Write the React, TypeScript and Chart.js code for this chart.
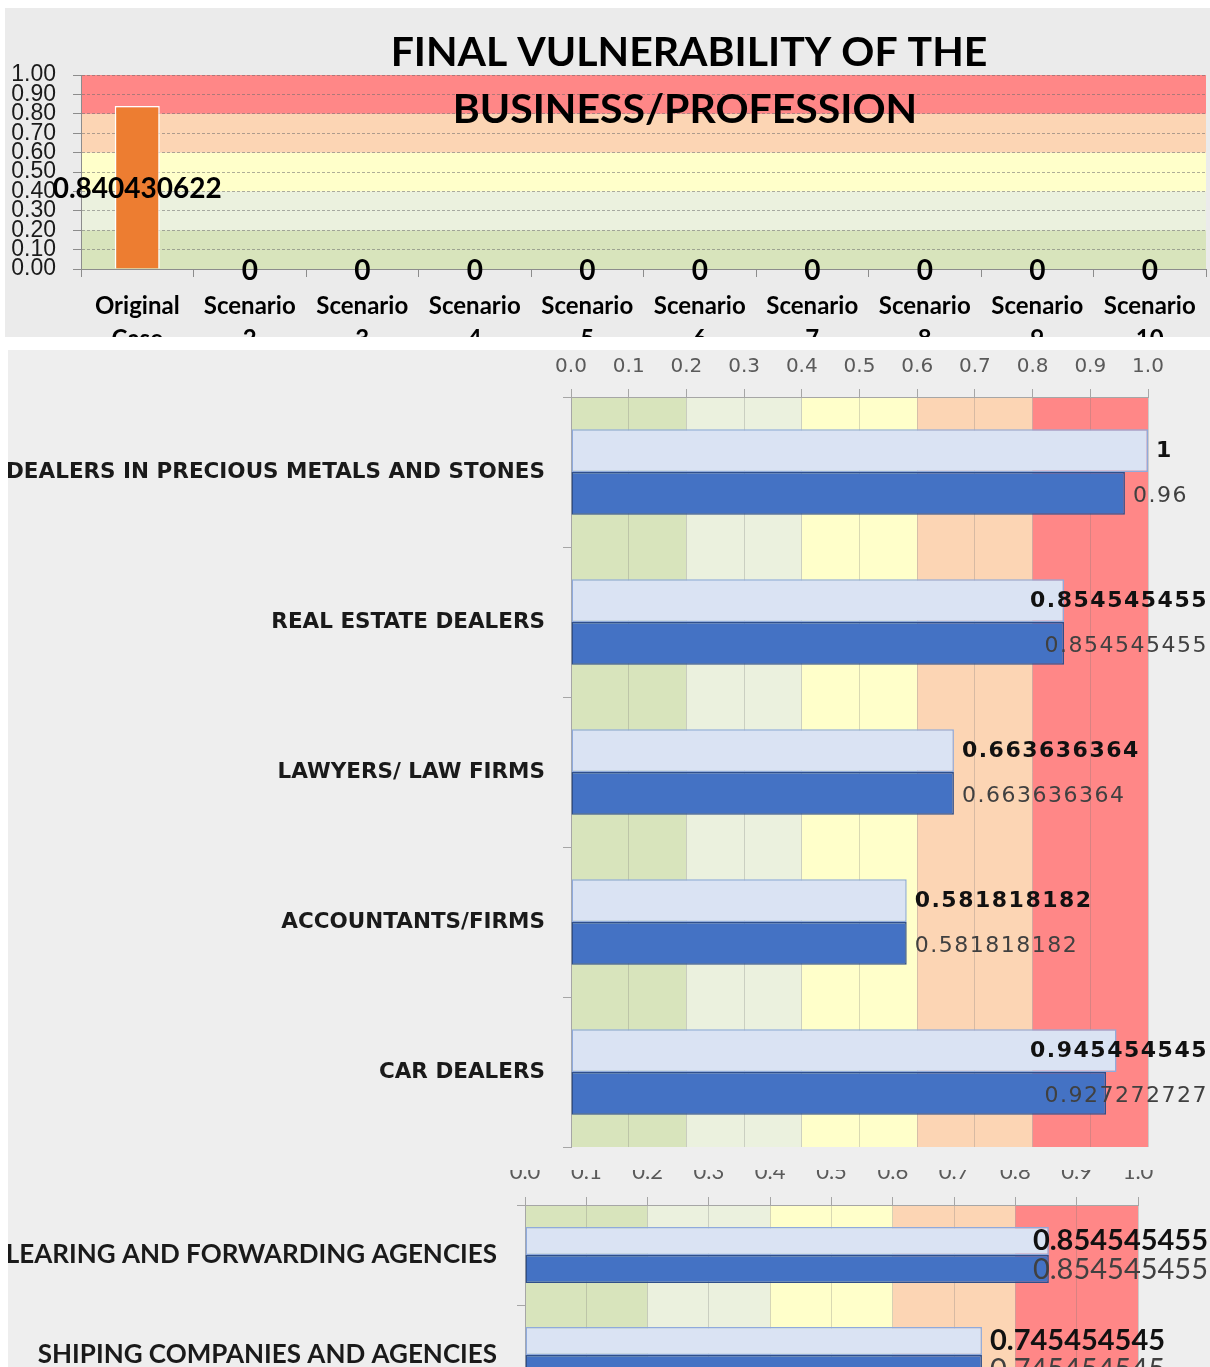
import React, { useEffect, useRef } from "react";
import { Chart, registerables } from "chart.js";

Chart.register(...registerables);

// ---------- data ----------
const TITLE_LINES = ["FINAL VULNERABILITY OF THE", "BUSINESS/PROFESSION"];
const TOP_CATEGORIES = [
  ["Original", "Case"],
  ["Scenario", "2"],
  ["Scenario", "3"],
  ["Scenario", "4"],
  ["Scenario", "5"],
  ["Scenario", "6"],
  ["Scenario", "7"],
  ["Scenario", "8"],
  ["Scenario", "9"],
  ["Scenario", "10"],
];
const TOP_VALUES = [0.840430622, 0, 0, 0, 0, 0, 0, 0, 0, 0];
const TOP_TICKS = [0, 0.1, 0.2, 0.3, 0.4, 0.5, 0.6, 0.7, 0.8, 0.9, 1.0];

const BAND_EDGES = [0, 0.2, 0.4, 0.6, 0.8, 1.0];
const BAND_COLORS = ["#d8e4bc", "#ebf1de", "#ffffca", "#fcd5b4", "#ff8787"];

const SECTORS_A = [
  "DEALERS IN PRECIOUS METALS AND STONES",
  "REAL ESTATE DEALERS",
  "LAWYERS/ LAW FIRMS",
  "ACCOUNTANTS/FIRMS",
  "CAR DEALERS",
];
const SECTORS_A_LIGHT = [1, 0.854545455, 0.663636364, 0.581818182, 0.945454545];
const SECTORS_A_DARK = [0.96, 0.854545455, 0.663636364, 0.581818182, 0.927272727];

const SECTORS_B = ["CLEARING AND FORWARDING AGENCIES", "SHIPING COMPANIES AND AGENCIES"];
const SECTORS_B_LIGHT = [0.854545455, 0.745454545];
const SECTORS_B_DARK = [0.854545455, 0.745454545];

const X_TICKS = [0, 0.1, 0.2, 0.3, 0.4, 0.5, 0.6, 0.7, 0.8, 0.9, 1.0];

// ---------- plugins ----------
function bandPlugin(axis: "x" | "y") {
  return {
    id: "bands",
    beforeDraw(chart: any) {
      const { ctx, chartArea: a } = chart;
      const s = chart.scales[axis];
      ctx.save();
      for (let i = 0; i < BAND_COLORS.length; i++) {
        const p0 = s.getPixelForValue(BAND_EDGES[i]);
        const p1 = s.getPixelForValue(BAND_EDGES[i + 1]);
        ctx.fillStyle = BAND_COLORS[i];
        if (axis === "y") {
          ctx.fillRect(a.left, Math.min(p0, p1), a.right - a.left, Math.abs(p1 - p0));
        } else {
          ctx.fillRect(Math.min(p0, p1), a.top, Math.abs(p1 - p0), a.bottom - a.top);
        }
      }
      ctx.restore();
    },
  };
}

const topLabelsPlugin = {
  id: "topLabels",
  afterDatasetsDraw(chart: any) {
    const { ctx } = chart;
    const meta = chart.getDatasetMeta(0);
    const ds = chart.data.datasets[0];
    ctx.save();
    ctx.font = "bold 28px Lato";
    ctx.fillStyle = "#000";
    ctx.textAlign = "center";
    ctx.textBaseline = "middle";
    meta.data.forEach((bar: any, i: number) => {
      const y = (bar.y + bar.base) / 2 + 2;
      ctx.fillText(String(ds.data[i]), bar.x, y);
    });
    ctx.restore();
  },
};

const titlePlugin = {
  id: "title2",
  afterDraw(chart: any) {
    const { ctx } = chart;
    ctx.save();
    ctx.font = "bold 41px Lato";
    ctx.fillStyle = "#000";
    ctx.textAlign = "center";
    ctx.textBaseline = "middle";
    ctx.fillText(TITLE_LINES[0], 684, 45);
    ctx.fillText(TITLE_LINES[1], 680, 102);
    ctx.restore();
  },
};

function hbarLabelsPlugin(fonts: string[], colors: string[], spacing: string, dy: number[]) {
  return {
    id: "hbarLabels",
    afterDatasetsDraw(chart: any) {
      const { ctx } = chart;
      ctx.save();
      ctx.textAlign = "left";
      ctx.textBaseline = "middle";
      chart.data.datasets.forEach((ds: any, di: number) => {
        const meta = chart.getDatasetMeta(di);
        ctx.font = fonts[di];
        ctx.fillStyle = colors[di];
        try {
          (ctx as any).letterSpacing = spacing;
        } catch (e) {}
        meta.data.forEach((bar: any, i: number) => {
          const text = String(ds.data[i]);
          const w = ctx.measureText(text).width;
          const x = Math.min(bar.x + 8, chart.width - w - 2);
          ctx.fillText(text, x, bar.y + dy[di]);
        });
      });
      ctx.restore();
    },
  };
}

// ---------- chart configs ----------
function topConfig(): any {
  return {
    type: "bar",
    data: {
      labels: TOP_CATEGORIES,
      datasets: [
        {
          data: TOP_VALUES,
          backgroundColor: "#ed7d31",
          borderColor: "#ffffff",
          borderWidth: 1.5,
          barPercentage: 0.4,
          categoryPercentage: 1,
        },
      ],
    },
    options: {
      responsive: false,
      animation: false,
      devicePixelRatio: 1,
      layout: { padding: { top: 67, right: 4, left: 0, bottom: 0 } },
      plugins: { legend: { display: false }, tooltip: { enabled: false }, title: { display: false } },
      scales: {
        x: {
          grid: { offset: true, drawOnChartArea: false, color: "#8c8c8c", tickLength: 8 },
          border: { color: "#8c8c8c" },
          ticks: {
            font: { family: "Lato", weight: "bold", size: 24, lineHeight: 1.4 },
            color: "#000",
            padding: 12,
            autoSkip: false,
            maxRotation: 0,
          },
          afterFit(s: any) {
            s.height = 84;
          },
        },
        y: {
          min: 0,
          max: 1,
          afterBuildTicks(s: any) {
            s.ticks = TOP_TICKS.map((v) => ({ value: v }));
          },
          ticks: {
            callback: (v: any) => Number(v).toFixed(2),
            font: { family: "Liberation Sans", size: 23, lineHeight: 1 },
            color: "#1a1a1a",
            padding: 17,
            autoSkip: false,
          },
          grid: { color: "rgba(110,110,110,0.55)", tickColor: "#8c8c8c", tickLength: 8, lineWidth: 1 },
          border: { color: "#8c8c8c", dash: [3, 2] },
          afterFit(s: any) {
            s.width = 76;
          },
        },
      },
    },
    plugins: [bandPlugin("y"), topLabelsPlugin, titlePlugin],
  };
}

function hbarConfig(p: {
  labels: string[];
  light: number[];
  dark: number[];
  catPct: number;
  padding: any;
  axisHeight: number;
  axisWidth: number;
  tickFont: any;
  tickPadding: number;
  labelFont: any;
  labelPadding: number;
  valueFonts: string[];
  valueColors: string[];
  spacing: string;
  dy: number[];
}): any {
  return {
    type: "bar",
    data: {
      labels: p.labels,
      datasets: [
        {
          data: p.light,
          backgroundColor: "#dae3f3",
          borderColor: "#8faadc",
          borderWidth: 1.5,
          borderSkipped: false,
          categoryPercentage: p.catPct,
          barPercentage: 1,
        },
        {
          data: p.dark,
          backgroundColor: "#4472c4",
          borderColor: "#2f4f8a",
          borderWidth: 1.5,
          borderSkipped: false,
          categoryPercentage: p.catPct,
          barPercentage: 1,
        },
      ],
    },
    options: {
      indexAxis: "y",
      responsive: false,
      animation: false,
      devicePixelRatio: 1,
      layout: { padding: p.padding },
      plugins: { legend: { display: false }, tooltip: { enabled: false } },
      scales: {
        x: {
          position: "top",
          min: 0,
          max: 1,
          afterBuildTicks(s: any) {
            s.ticks = X_TICKS.map((v) => ({ value: v }));
          },
          ticks: {
            callback: (v: any) => Number(v).toFixed(1),
            font: p.tickFont,
            color: "#5a5a5a",
            padding: p.tickPadding,
            autoSkip: false,
            maxRotation: 0,
          },
          grid: { color: "rgba(120,120,120,0.28)", tickColor: "#a6a6a6", tickLength: 8 },
          border: { color: "#a6a6a6" },
          afterFit(s: any) {
            s.height = p.axisHeight;
            s.paddingLeft = 0;
            s.paddingRight = 0;
          },
        },
        y: {
          ticks: { font: p.labelFont, color: "#1a1a1a", padding: p.labelPadding, autoSkip: false },
          grid: { offset: true, drawOnChartArea: false, tickLength: 8, tickColor: "#a6a6a6", color: "#a6a6a6" },
          border: { color: "#a6a6a6" },
          afterFit(s: any) {
            s.width = p.axisWidth;
            s.paddingTop = 0;
            s.paddingBottom = 0;
          },
        },
      },
    },
    plugins: [bandPlugin("x"), hbarLabelsPlugin(p.valueFonts, p.valueColors, p.spacing, p.dy)],
  };
}

// ---------- components ----------
function Panel(props: {
  makeConfig: () => any;
  box: { left: number; top: number; width: number; height: number; bg: string };
  canvas: { left: number; top: number; width: number; height: number };
}) {
  const ref = useRef<HTMLCanvasElement>(null);
  useEffect(() => {
    const chart = new Chart(ref.current as HTMLCanvasElement, props.makeConfig());
    return () => chart.destroy();
  }, []);
  const { box, canvas } = props;
  return (
    <div
      style={{
        position: "absolute",
        left: box.left,
        top: box.top,
        width: box.width,
        height: box.height,
        background: box.bg,
        overflow: "hidden",
      }}
    >
      <canvas
        ref={ref}
        width={canvas.width}
        height={canvas.height}
        style={{
          position: "absolute",
          left: canvas.left,
          top: canvas.top,
          width: canvas.width,
          height: canvas.height,
        }}
      />
    </div>
  );
}

export default function App() {
  return (
    <div>
      <Panel
        makeConfig={topConfig}
        box={{ left: 5, top: 8, width: 1205, height: 329, bg: "#ebebeb" }}
        canvas={{ left: 0, top: 0, width: 1205, height: 345 }}
      />
      <Panel
        makeConfig={() =>
          hbarConfig({
            labels: SECTORS_A,
            light: SECTORS_A_LIGHT,
            dark: SECTORS_A_DARK,
            catPct: 0.57,
            padding: { top: 0, right: 62, bottom: 23, left: 0 },
            axisHeight: 47,
            axisWidth: 603,
            tickFont: { family: "DejaVu Sans", size: 20 },
            tickPadding: 10,
            labelFont: { family: "DejaVu Sans", weight: "bold", size: 21.5 },
            labelPadding: 18,
            valueFonts: ["bold 22px 'DejaVu Sans'", "22px 'DejaVu Sans'"],
            valueColors: ["#111111", "#404040"],
            spacing: "1.5px",
            dy: [1, 3],
          })
        }
        box={{ left: 8, top: 350, width: 1202, height: 820, bg: "#eeeeee" }}
        canvas={{ left: -40, top: 0, width: 1242, height: 820 }}
      />
      <Panel
        makeConfig={() =>
          hbarConfig({
            labels: SECTORS_B,
            light: SECTORS_B_LIGHT,
            dark: SECTORS_B_DARK,
            catPct: 0.56,
            padding: { top: 0, right: 72, bottom: 5, left: 0 },
            axisHeight: 51,
            axisWidth: 537,
            tickFont: { family: "Lato", size: 22 },
            tickPadding: 12,
            labelFont: { family: "Lato", weight: "bold", size: 26 },
            labelPadding: 20,
            valueFonts: ["bold 29px Lato", "29px Lato"],
            valueColors: ["#111111", "#404040"],
            spacing: "0px",
            dy: [0, 1],
          })
        }
        box={{ left: 8, top: 1170, width: 1202, height: 197, bg: "#eeeeee" }}
        canvas={{ left: -20, top: -16, width: 1222, height: 256 }}
      />
    </div>
  );
}
